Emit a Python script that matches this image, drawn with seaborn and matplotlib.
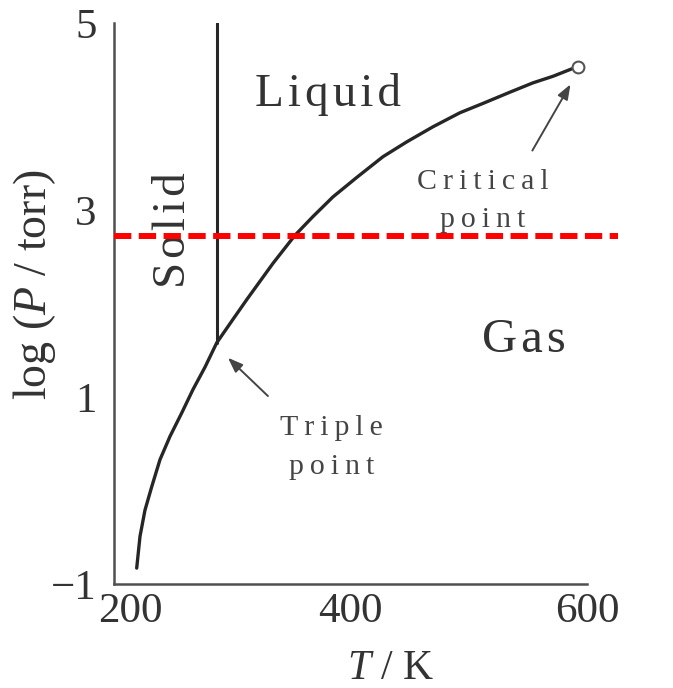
import matplotlib
matplotlib.use("Agg")
import matplotlib.pyplot as plt
import matplotlib.transforms as mtransforms
import pandas as pd
import seaborn as sns

# values
curve_T = [219.2, 222.0, 226.2, 231.9, 238.9, 247.4, 257.3, 266.8, 277.0, 286.9, 300.6,
           312.2, 334.5, 353.1, 368.3, 385.2, 405.5, 427.5, 447.8, 469.8, 492.6, 512.1,
           534.9, 554.4, 571.3, 587.3]
curve_logP = [-0.83, -0.49, -0.21, 0.04, 0.33, 0.58, 0.83, 1.08, 1.32, 1.58, 1.83,
              2.04, 2.43, 2.73, 2.93, 3.14, 3.35, 3.57, 3.73, 3.89, 4.04, 4.14,
              4.26, 4.36, 4.43, 4.51]
melt_T = [286.9, 286.9]
melt_logP = [1.58, 5.0]
critical_T = [592.4]
critical_logP = [4.53]
ref_logP = 2.72          # red dashed reference level
ref_T = [200, 626]
x_ticks = [200, 400, 600]
y_ticks = [-1, 0, 1, 2, 3, 4, 5]
y_ticklabels = ["\u22121", "", "1", "", "3", "", "5"]

df_curve = pd.DataFrame({"T": curve_T, "logP": curve_logP})
df_melt = pd.DataFrame({"T": melt_T, "logP": melt_logP})

sns.set_theme(style="white")
plt.rcParams["font.family"] = ["Liberation Serif", "DejaVu Serif"]
plt.rcParams["mathtext.fontset"] = "custom"
plt.rcParams["mathtext.rm"] = "Liberation Serif"
plt.rcParams["mathtext.it"] = "Liberation Serif:italic"

ink = "#262626"
axis_col = "#505050"
text_col = "#333333"


def spaced(s, gap="\u200a"):
    return gap.join(s)


fig = plt.figure(figsize=(6.73, 6.88), dpi=100)
ax = fig.add_axes([114 / 673, 1 - 584 / 688, 532 / 673, 561 / 688])

# vapour-pressure / sublimation curve and melting line
sns.lineplot(data=df_curve, x="T", y="logP", sort=False, estimator=None,
             color=ink, lw=2.4, ax=ax)
sns.lineplot(data=df_melt, x="T", y="logP", sort=False, estimator=None,
             color=ink, lw=2.2, ax=ax)
ax.plot(critical_T, critical_logP, "o", ms=8.5, mfc="white", mec="#555555", mew=1.5, zorder=5)

# red dashed reference line
ax.plot(ref_T, [ref_logP, ref_logP], color="red", lw=4.3,
        linestyle=(0, (2.9, 1.25)), clip_on=False, zorder=6)

ax.set_xlim(200, 650)
ax.set_ylim(-1, 5)
ax.set_xlabel("")
ax.set_ylabel("")
sns.despine(ax=ax)
ax.spines["bottom"].set_bounds(200, 600)
ax.spines["left"].set_bounds(-1, 5)
for s in ("left", "bottom"):
    ax.spines[s].set_color(axis_col)
    ax.spines[s].set_linewidth(1.8)

ax.set_xticks(x_ticks)
ax.set_xticklabels([str(t) for t in x_ticks])
ax.set_yticks(y_ticks)
ax.set_yticklabels(y_ticklabels)
ax.tick_params(axis="both", direction="in", length=16, width=1.5, color=axis_col,
               labelsize=31, labelcolor=text_col)
ax.tick_params(axis="y", pad=12.5)
ax.tick_params(axis="x", pad=6)
# "200" sits a little right of its tick so it clears the "-1"
first = ax.get_xticklabels()[0]
first.set_transform(first.get_transform() + mtransforms.ScaledTranslation(0.16, 0, fig.dpi_scale_trans))

# axis titles
ax.text(0.519, -0.170, r"$\mathit{T}$ / K", transform=ax.transAxes, fontsize=30,
        color=text_col, ha="center", va="baseline")
ax.text(-0.1485, 0.533, r"log ($\mathit{P}$ / torr)", transform=ax.transAxes, fontsize=33,
        color=text_col, ha="center", va="center", rotation=90)

# phase labels
ax.text(381, 4.23, spaced("Liquid"), fontsize=34, color=text_col, ha="center", va="center")
ax.text(250.5, 2.79, spaced("Solid"), fontsize=34, color=text_col,
        ha="center", va="center", rotation=90)
ax.text(547, 1.61, spaced("Gas"), fontsize=35, color=text_col, ha="center", va="center")

thin = "\u2009"
ax.text(512, 3.10, spaced("Critical", thin) + "\n" + spaced("point", thin), fontsize=21.5,
        color="#444444", ha="center", va="center", linespacing=1.6)
ax.text(384, 0.465, spaced("Triple", thin) + "\n" + spaced("point", thin), fontsize=21.5,
        color="#444444", ha="center", va="center", linespacing=1.65)

arrow = dict(arrowstyle="-|>,head_length=0.75,head_width=0.28", color="#444444", lw=1.4)
ax.annotate("", xy=(294.7, 1.44), xytext=(331.9, 0.99), arrowprops=arrow)
ax.annotate("", xy=(587.3, 4.37), xytext=(552.7, 3.61), arrowprops=arrow)

fig.savefig("out.png", dpi=100, facecolor="white")
